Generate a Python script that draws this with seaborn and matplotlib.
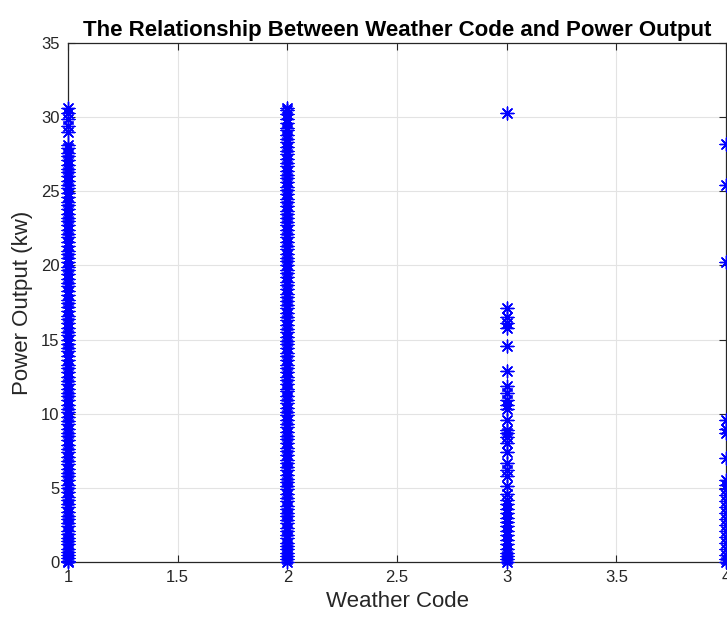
import matplotlib
matplotlib.use("Agg")
import matplotlib.pyplot as plt
import seaborn as sns
import pandas as pd

# Power output (kw), per weather code
code1 = [0.0, 0.1, 0.3, 0.5, 0.7, 0.9, 1.2, 1.4, 1.6, 1.9, 2.1, 2.4, 2.6, 2.9, 3.1, 3.4,
         3.7, 3.9, 4.2, 4.4, 4.7, 5.0, 5.2, 5.5, 5.8, 6.0, 6.3, 6.6, 6.8, 7.1, 7.4, 7.6,
         7.9, 8.2, 8.5, 8.7, 9.0, 9.3, 9.5, 9.8, 10.1, 10.3, 10.6, 10.9, 11.2, 11.4, 11.7,
         12.0, 12.2, 12.5, 12.8, 13.1, 13.3, 13.6, 13.9, 14.2, 14.4, 14.7, 15.0, 15.3,
         15.5, 15.8, 16.1, 16.4, 16.6, 16.9, 17.2, 17.5, 17.7, 18.0, 18.3, 18.6, 18.8,
         19.1, 19.4, 19.7, 19.9, 20.2, 20.5, 20.8, 21.0, 21.3, 21.6, 21.9, 22.1, 22.4,
         22.7, 23.0, 23.2, 23.5, 23.8, 24.1, 24.3, 24.6, 24.9, 25.2, 25.4, 25.7, 26.0,
         26.3, 26.5, 26.8, 27.1, 27.4, 27.6, 27.9, 28.1, 29.0, 29.4, 29.9, 30.3, 30.6]
code2 = [0.0, 0.2, 0.4, 0.6, 0.9, 1.1, 1.3, 1.6, 1.8, 2.1, 2.3, 2.6, 2.8, 3.1, 3.3, 3.6,
         3.8, 4.1, 4.3, 4.6, 4.9, 5.1, 5.4, 5.6, 5.9, 6.2, 6.4, 6.7, 6.9, 7.2, 7.5, 7.7,
         8.0, 8.3, 8.5, 8.8, 9.1, 9.3, 9.6, 9.9, 10.1, 10.4, 10.7, 10.9, 11.2, 11.5, 11.7,
         12.0, 12.3, 12.5, 12.8, 13.1, 13.3, 13.6, 13.9, 14.1, 14.4, 14.7, 14.9, 15.2,
         15.5, 15.7, 16.0, 16.3, 16.5, 16.8, 17.1, 17.3, 17.6, 17.9, 18.1, 18.4, 18.7,
         18.9, 19.2, 19.5, 19.7, 20.0, 20.3, 20.5, 20.8, 21.1, 21.3, 21.6, 21.9, 22.1,
         22.4, 22.7, 22.9, 23.2, 23.5, 23.7, 24.0, 24.3, 24.5, 24.8, 25.1, 25.3, 25.6,
         25.9, 26.1, 26.4, 26.7, 26.9, 27.2, 27.5, 27.7, 28.0, 28.3, 28.5, 28.8, 29.1,
         29.3, 29.6, 29.9, 30.2, 30.5, 30.6]
code3 = [30.3, 17.1, 16.5, 16.1, 15.8, 14.6, 12.9, 11.9, 11.4, 10.9, 10.6, 10.3, 9.6,
         8.9, 8.7, 8.4, 8.0, 7.4, 6.7, 6.2, 5.8, 5.1, 4.6, 4.2, 3.9, 3.6, 3.3, 3.0, 2.7,
         2.4, 2.1, 1.8, 1.5, 1.2, 0.9, 0.6, 0.4, 0.2, 0.0]
code4 = [28.2, 25.4, 20.2, 9.6, 9.0, 8.7, 7.0, 5.5, 5.2, 4.9, 4.5, 4.1, 3.7, 3.3, 2.9,
         2.5, 2.1, 1.7, 1.3, 0.9, 0.5, 0.2, 0.0]
codes = [1, 2, 3, 4]
x_ticks = [1, 1.5, 2, 2.5, 3, 3.5, 4]
x_tick_labels = ["1", "1.5", "2", "2.5", "3", "3.5", "4"]
y_ticks = [0, 5, 10, 15, 20, 25, 30, 35]

rows = []
for c, vals in zip(codes, [code1, code2, code3, code4]):
    for v in vals:
        rows.append({"Weather Code": c, "Power": v})
df = pd.DataFrame(rows)

sns.set_style("white")
plt.rcParams["font.family"] = ["Liberation Sans", "DejaVu Sans"]

fig = plt.figure(figsize=(7.27, 6.25), dpi=100)
ax = fig.add_axes([68 / 727, 63 / 625, 658 / 727, 519 / 625])

sns.scatterplot(data=df, x="Weather Code", y="Power", ax=ax, marker=(8, 2, 0),
                color="#0000ff", s=85, linewidth=1.0, clip_on=False, zorder=3,
                legend=False)

ax.set_xlim(1, 4)
ax.set_ylim(0, 35)
ax.set_xticks(x_ticks)
ax.set_xticklabels(x_tick_labels)
ax.set_yticks(y_ticks)
ax.grid(True, color="#e3e3e3", linewidth=0.8)
ax.set_axisbelow(True)
for sp in ax.spines.values():
    sp.set_visible(True)
    sp.set_color("#262626")
    sp.set_linewidth(0.9)
ax.tick_params(direction="in", length=5, width=0.8, colors="#262626",
               labelsize=12, top=True, right=True, bottom=True, left=True,
               labeltop=False, labelright=False, pad=6)
ax.set_xlabel("Weather Code", fontsize=16, color="#262626", labelpad=4)
ax.set_ylabel("Power Output (kw)", fontsize=16, color="#262626", labelpad=6)
ax.set_title("The Relationship Between Weather Code and Power Output",
             fontsize=16, fontweight="bold", color="black", pad=5)

fig.savefig("out.png", dpi=100)
